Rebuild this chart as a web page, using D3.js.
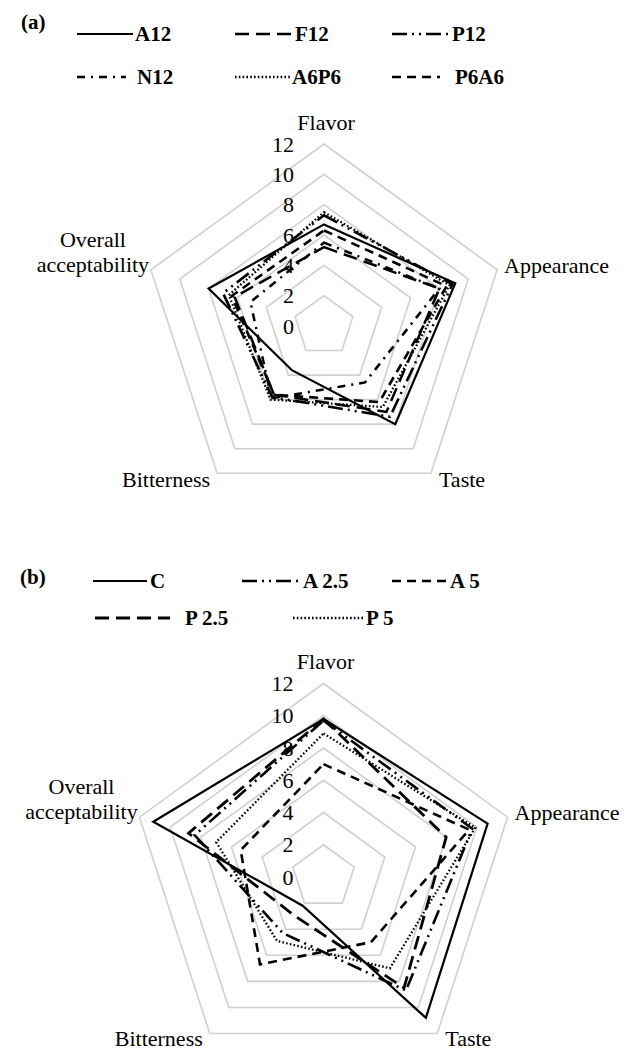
<!DOCTYPE html>
<html>
<head>
<meta charset="utf-8">
<script src="https://cdn.jsdelivr.net/npm/d3@7"></script>
<style>
  html, body { margin: 0; padding: 0; background: #fff; }
  svg { display: block; }
</style>
</head>
<body>
<svg id="chart" width="632" height="1051"></svg>
<script>
// Sensory attributes, clockwise from the top
const attributes = ["Flavor", "Appearance", "Taste", "Bitterness", "Overall acceptability"];
const scoreTicks = [0, 2, 4, 6, 8, 10, 12];

// Panel (a) formulations
const namesA = ["A12", "F12", "P12", "N12", "A6P6", "P6A6"];
const A12  = [6.7, 9.1, 8.0, 3.6, 8.0];
const F12  = [5.2, 8.0, 7.0, 5.6, 6.2];
const P12  = [7.3, 8.9, 7.4, 5.8, 7.0];
const N12  = [5.5, 8.0, 4.6, 5.9, 5.1];
const A6P6 = [7.5, 8.7, 6.6, 6.0, 6.6];
const P6A6 = [6.3, 8.5, 6.2, 5.6, 6.4];

// Panel (b) formulations
const namesB = ["C", "A 2.5", "A 5", "P 2.5", "P 5"];
const C    = [9.8, 10.7, 10.8, 2.2, 11.1];
const A2_5 = [9.7, 9.7, 8.7, 4.3, 8.4];
const A5   = [7.0, 9.5, 5.0, 6.7, 5.4];
const P2_5 = [9.8, 8.0, 8.5, 3.0, 8.8];
const P5   = [8.9, 9.9, 7.0, 4.9, 7.0];

// Line styles (dash arrays) used for each formulation
const dashStyle = {
  solid: null,
  longDash: "14,7",
  longDashDotDot: "15,5,2,5,2,5",
  dashDot: "8,6,2,6",
  dot: "1.6,2.2",
  dash: "9,6"
};

const svg = d3.select("#chart");

function label(sel, size, weight) {
  return sel.append("text")
    .style("font-family", '"Liberation Serif"')
    .style("font-size", size + "px")
    .style("font-weight", weight || "normal")
    .attr("fill", "#000");
}

function drawRadar(panel) {
  const g = svg.append("g").attr("transform", `translate(${panel.cx},${panel.cy})`);
  const r = d3.scaleLinear().domain([0, d3.max(scoreTicks)]).range([0, panel.R]);
  const angle = d3.scaleLinear().domain([0, attributes.length]).range([0, 2 * Math.PI]);
  const pt = (i, v) => [Math.sin(angle(i)) * r(v), -Math.cos(angle(i)) * r(v)];

  const ring = d3.lineRadial()
    .angle((d, i) => angle(i))
    .radius(d => r(d))
    .curve(d3.curveLinearClosed);

  // grid pentagons
  scoreTicks.filter(t => t > 0).forEach(t => {
    g.append("path")
      .attr("d", ring(attributes.map(() => t)))
      .attr("fill", "none")
      .attr("stroke", "#d0d0d0")
      .attr("stroke-width", 1.6);
  });

  // tick labels along the Flavor axis
  scoreTicks.forEach(t => {
    label(g, 22)
      .attr("x", -30)
      .attr("y", -r(t))
      .attr("dy", "0.35em")
      .attr("text-anchor", "end")
      .text(t);
  });

  // data polygons
  panel.series.forEach(s => {
    g.append("path")
      .attr("d", ring(s.values))
      .attr("fill", "none")
      .attr("stroke", "#000")
      .attr("stroke-width", s.width || 2.3)
      .attr("stroke-linejoin", "miter")
      .attr("stroke-dasharray", s.dash);
  });

  // attribute labels
  const top = pt(0, 12), right = pt(1, 12), br = pt(2, 12), bl = pt(3, 12), left = pt(4, 12);
  label(g, 22).attr("x", top[0] + 2).attr("y", top[1] - 14.5)
    .attr("text-anchor", "middle").text(attributes[0]);
  label(g, 22).attr("x", right[0] + 7).attr("y", right[1] + 3)
    .attr("text-anchor", "start").text(attributes[1]);
  label(g, 22).attr("x", br[0] + 8).attr("y", br[1] + panel.bottomGap)
    .attr("text-anchor", "start").text(attributes[2]);
  label(g, 22).attr("x", bl[0] - 7).attr("y", bl[1] + panel.bottomGap)
    .attr("text-anchor", "end").text(attributes[3]);
  const oa = label(g, 22).attr("text-anchor", "middle");
  const words = attributes[4].split(" ");
  oa.append("tspan").attr("x", left[0] - 58).attr("y", left[1] - 23).text(words[0]);
  oa.append("tspan").attr("x", left[0] - 58).attr("y", left[1] + 2).text(words[1]);
}

function drawLegend(items) {
  items.forEach(it => {
    svg.append("line")
      .attr("x1", it.x1).attr("x2", it.x2)
      .attr("y1", it.y).attr("y2", it.y)
      .attr("stroke", "#000")
      .attr("stroke-width", it.width || 2.3)
      .attr("stroke-dasharray", it.dash);
    label(svg, 21, "bold")
      .attr("x", it.tx).attr("y", it.y)
      .attr("dy", "0.35em")
      .text(it.name);
  });
}

// ---------- panel (a) ----------
const styleA = [dashStyle.solid, dashStyle.longDash, dashStyle.longDashDotDot, dashStyle.dashDot, dashStyle.dot, dashStyle.dash];
const valuesA = [A12, F12, P12, N12, A6P6, P6A6];
const widthA = [2.2, 2.5, 2.6, 2.5, 2.3, 2.6];

label(svg, 21, "bold").attr("x", 21).attr("y", 29).text("(a)");

drawLegend([
  { name: namesA[0], dash: styleA[0], width: widthA[0], x1: 77, x2: 133, tx: 135, y: 34 },
  { name: namesA[1], dash: styleA[1], width: widthA[1], x1: 235, x2: 293, tx: 295, y: 34 },
  { name: namesA[2], dash: styleA[2], width: widthA[2], x1: 392, x2: 450, tx: 452, y: 34 },
  { name: namesA[3], dash: styleA[3], width: widthA[3], x1: 77, x2: 126, tx: 137, y: 77 },
  { name: namesA[4], dash: styleA[4], width: widthA[4], x1: 235, x2: 291, tx: 292, y: 77 },
  { name: namesA[5], dash: styleA[5], width: widthA[5], x1: 392, x2: 440, tx: 455, y: 77 }
]);

drawRadar({
  cx: 324, cy: 326, R: 182, bottomGap: 14,
  series: valuesA.map((v, i) => ({ name: namesA[i], values: v, dash: styleA[i], width: widthA[i] }))
});

// ---------- panel (b) ----------
const styleB = [dashStyle.solid, dashStyle.longDashDotDot, dashStyle.dash, dashStyle.longDash, dashStyle.dot];
const valuesB = [C, A2_5, A5, P2_5, P5];
const widthB = [2.2, 2.6, 2.6, 2.8, 2.3];

label(svg, 21, "bold").attr("x", 20).attr("y", 584).text("(b)");

drawLegend([
  { name: namesB[0], dash: styleB[0], width: widthB[0], x1: 93, x2: 147, tx: 150, y: 581 },
  { name: namesB[1], dash: styleB[1], width: widthB[1], x1: 242, x2: 300, tx: 303, y: 581 },
  { name: namesB[2], dash: styleB[2], width: widthB[2], x1: 392, x2: 446, tx: 450, y: 581 },
  { name: namesB[3], dash: styleB[3], width: widthB[3], x1: 95, x2: 170, tx: 185, y: 618 },
  { name: namesB[4], dash: styleB[4], width: widthB[4], x1: 293, x2: 363, tx: 366, y: 618 }
]);

drawRadar({
  cx: 323.5, cy: 877, R: 193.5, bottomGap: 12,
  series: valuesB.map((v, i) => ({ name: namesB[i], values: v, dash: styleB[i], width: widthB[i] }))
});
</script>
</body>
</html>
